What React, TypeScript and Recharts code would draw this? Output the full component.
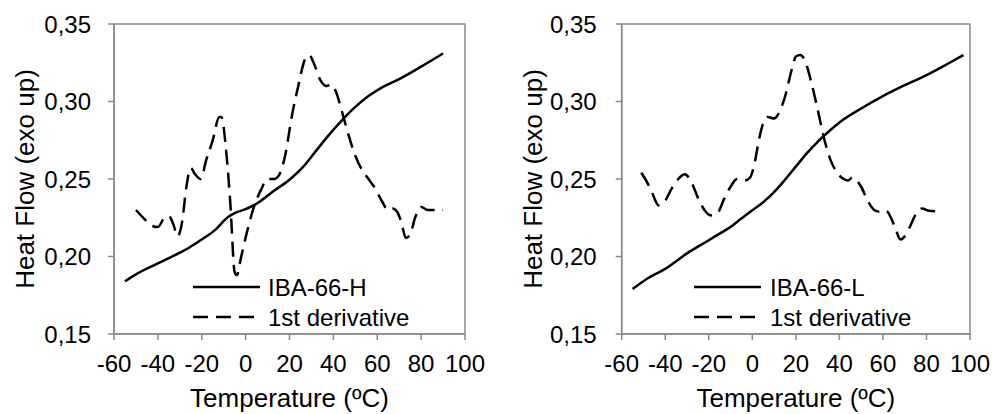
import React from 'react';
import { LineChart, Line, XAxis, YAxis, ReferenceArea, Legend } from 'recharts';

const xTicks = [-60, -40, -20, 0, 20, 40, 60, 80, 100];
const yTicks = [0.15, 0.2, 0.25, 0.3, 0.35];

// IBA-66-H
const hTemp = [-55, -50, -40, -30, -26, -20, -14, -8, -5, 0, 6, 12, 20, 26, 32, 38, 44, 50, 56, 62, 70, 80, 90];
const hFlow = [0.184, 0.1885, 0.1955, 0.2025, 0.2055, 0.211, 0.217, 0.2255, 0.228, 0.2305, 0.235, 0.2415, 0.2495, 0.2575, 0.268, 0.2785, 0.288, 0.2965, 0.3035, 0.309, 0.3145, 0.3225, 0.331];
const hDerivTemp = [-50, -46, -43, -40, -37, -35, -33, -31, -29, -27, -25, -23, -20.5, -18, -15, -12, -11, -9, -7, -5, -4, -2, 1, 4, 7, 10, 13, 15, 18, 21, 24, 27, 29, 31, 34, 37, 39, 41, 44, 47, 50, 53, 56, 59, 62, 65, 67, 69, 71, 73, 75, 77, 80, 83, 87, 90];
const hDeriv = [0.23, 0.224, 0.22, 0.219, 0.225, 0.226, 0.221, 0.213, 0.222, 0.245, 0.257, 0.253, 0.25, 0.262, 0.275, 0.29, 0.29, 0.27, 0.235, 0.19, 0.188, 0.2, 0.218, 0.233, 0.243, 0.25, 0.25, 0.252, 0.265, 0.29, 0.31, 0.327, 0.33, 0.325, 0.314, 0.31, 0.311, 0.307, 0.293, 0.278, 0.265, 0.256, 0.25, 0.244, 0.236, 0.23, 0.231, 0.229, 0.222, 0.212, 0.214, 0.224, 0.232, 0.23, 0.23, 0.23];

// IBA-66-L
const lTemp = [-55, -48, -40, -30, -20, -15, -10, -5, 0, 5, 10, 15, 20, 25, 30, 35, 40, 50, 60, 70, 80, 90, 97];
const lFlow = [0.179, 0.186, 0.192, 0.202, 0.2105, 0.2148, 0.219, 0.2245, 0.2298, 0.235, 0.2415, 0.2495, 0.258, 0.2665, 0.274, 0.2805, 0.2865, 0.2955, 0.3035, 0.3105, 0.317, 0.3245, 0.33];
const lDerivTemp = [-51, -48, -46, -43, -40, -37, -34, -31, -28, -25, -22, -19, -16, -13, -10, -7, -3.5, -1, 1, 3, 5, 7, 10, 12, 15, 18, 20, 22, 24, 27, 30, 33, 36, 39, 42, 44, 46, 48, 50, 53, 56, 58, 60, 62, 64, 66, 68, 70, 72, 75, 78, 81, 86];
const lDeriv = [0.254, 0.247, 0.241, 0.233, 0.236, 0.244, 0.25, 0.253, 0.248, 0.238, 0.23, 0.2265, 0.228, 0.237, 0.245, 0.25, 0.249, 0.251, 0.26, 0.275, 0.286, 0.29, 0.289, 0.292, 0.303, 0.32, 0.329, 0.33, 0.327, 0.313, 0.295, 0.276, 0.262, 0.254, 0.25, 0.249, 0.251, 0.249, 0.245, 0.236, 0.23, 0.229, 0.23, 0.229, 0.224, 0.217, 0.211, 0.213, 0.218, 0.227, 0.231, 0.2295, 0.229];

const FONT = '"Liberation Sans", Arial, sans-serif';
const AXIS = '#8a8a8a';
const DASH = '15 8';

const toPoints = (xs: number[], ys: number[]) => xs.map((t, i) => ({ t, v: ys[i] }));
const fmtY = (v: number) => v.toFixed(2).replace('.', ',');

interface PanelProps {
  name: string;
  temp: number[];
  flow: number[];
  derivTemp: number[];
  deriv: number[];
  left: number;
  width: number;
  plotLeft: number;
  plotRight: number;
  tickGap: number;
  yTitleX: number;
  legendX: number;
  legendTextX: number;
}

const Panel: React.FC<PanelProps> = (p) => {
  const solid = toPoints(p.temp, p.flow);
  const dashed = toPoints(p.derivTemp, p.deriv);
  const plotCenter = (p.plotLeft + p.plotRight) / 2;

  const renderLegend = () => (
    <svg width={p.width} height={414} style={{ position: 'absolute', left: 0, top: 0 }}>
      <line x1={p.legendX} x2={p.legendX + 67} y1={287} y2={287} stroke="#000" strokeWidth={2.5} />
      <text x={p.legendTextX} y={287} dominantBaseline="central" fontSize={24} fontFamily={FONT} fill="#000">{p.name}</text>
      <line x1={p.legendX} x2={p.legendX + 67} y1={317} y2={317} stroke="#000" strokeWidth={2.5} strokeDasharray={DASH} />
      <text x={p.legendTextX} y={317} dominantBaseline="central" fontSize={24} fontFamily={FONT} fill="#000">1st derivative</text>
    </svg>
  );

  return (
    <div style={{ position: 'absolute', left: p.left, top: 0 }}>
      <LineChart width={p.width} height={414} margin={{ top: 24, right: p.width - p.plotRight, bottom: 0, left: 0 }}>
        <XAxis
          type="number"
          dataKey="t"
          domain={[-60, 100]}
          ticks={xTicks}
          interval={0}
          allowDataOverflow
          height={80}
          stroke={AXIS}
          strokeWidth={1.5}
          tickSize={6}
          tickMargin={15}
          tick={{ fill: '#000', fontSize: 24, fontFamily: FONT }}
          label={() => (
            <text x={plotCenter} y={407} textAnchor="middle" fontSize={26} fontFamily={FONT} fill="#000">Temperature (ºC)</text>
          )}
        />
        <YAxis
          type="number"
          domain={[0.15, 0.35]}
          ticks={yTicks}
          interval={0}
          allowDataOverflow
          width={p.plotLeft}
          stroke={AXIS}
          strokeWidth={1.5}
          tickSize={6}
          tickMargin={p.tickGap}
          tickFormatter={fmtY}
          tick={{ fill: '#000', fontSize: 24, fontFamily: FONT }}
          label={() => (
            <text
              x={p.yTitleX}
              y={179}
              transform={`rotate(-90 ${p.yTitleX} 179)`}
              textAnchor="middle"
              dominantBaseline="central"
              fontSize={26}
              fontFamily={FONT}
              fill="#000"
            >
              Heat Flow (exo up)
            </text>
          )}
        />
        <ReferenceArea x1={-60} x2={100} y1={0.15} y2={0.35} fill="none" stroke={AXIS} strokeWidth={1.5} />
        <Line data={solid} dataKey="v" type="monotone" stroke="#000" strokeWidth={2.5} dot={false} isAnimationActive={false} />
        <Line data={dashed} dataKey="v" type="monotone" stroke="#000" strokeWidth={2.5} strokeDasharray={DASH} dot={false} isAnimationActive={false} />
        <Legend
          layout="vertical"
          align="center"
          verticalAlign="middle"
          content={renderLegend}
          wrapperStyle={{ position: 'absolute', left: 0, top: 0, width: p.width, height: 414 }}
        />
      </LineChart>
    </div>
  );
};

export default function App() {
  return (
    <div style={{ position: 'absolute', left: 0, top: 0, width: 995, height: 414, background: '#fff' }}>
      <Panel
        name="IBA-66-H"
        temp={hTemp}
        flow={hFlow}
        derivTemp={hDerivTemp}
        deriv={hDeriv}
        left={0}
        width={495}
        plotLeft={114}
        plotRight={465}
        tickGap={17}
        yTitleX={25}
        legendX={193}
        legendTextX={268}
      />
      <Panel
        name="IBA-66-L"
        temp={lTemp}
        flow={lFlow}
        derivTemp={lDerivTemp}
        deriv={lDeriv}
        left={495}
        width={500}
        plotLeft={126.7}
        plotRight={475}
        tickGap={19}
        yTitleX={37.5}
        legendX={199}
        legendTextX={275}
      />
    </div>
  );
}
